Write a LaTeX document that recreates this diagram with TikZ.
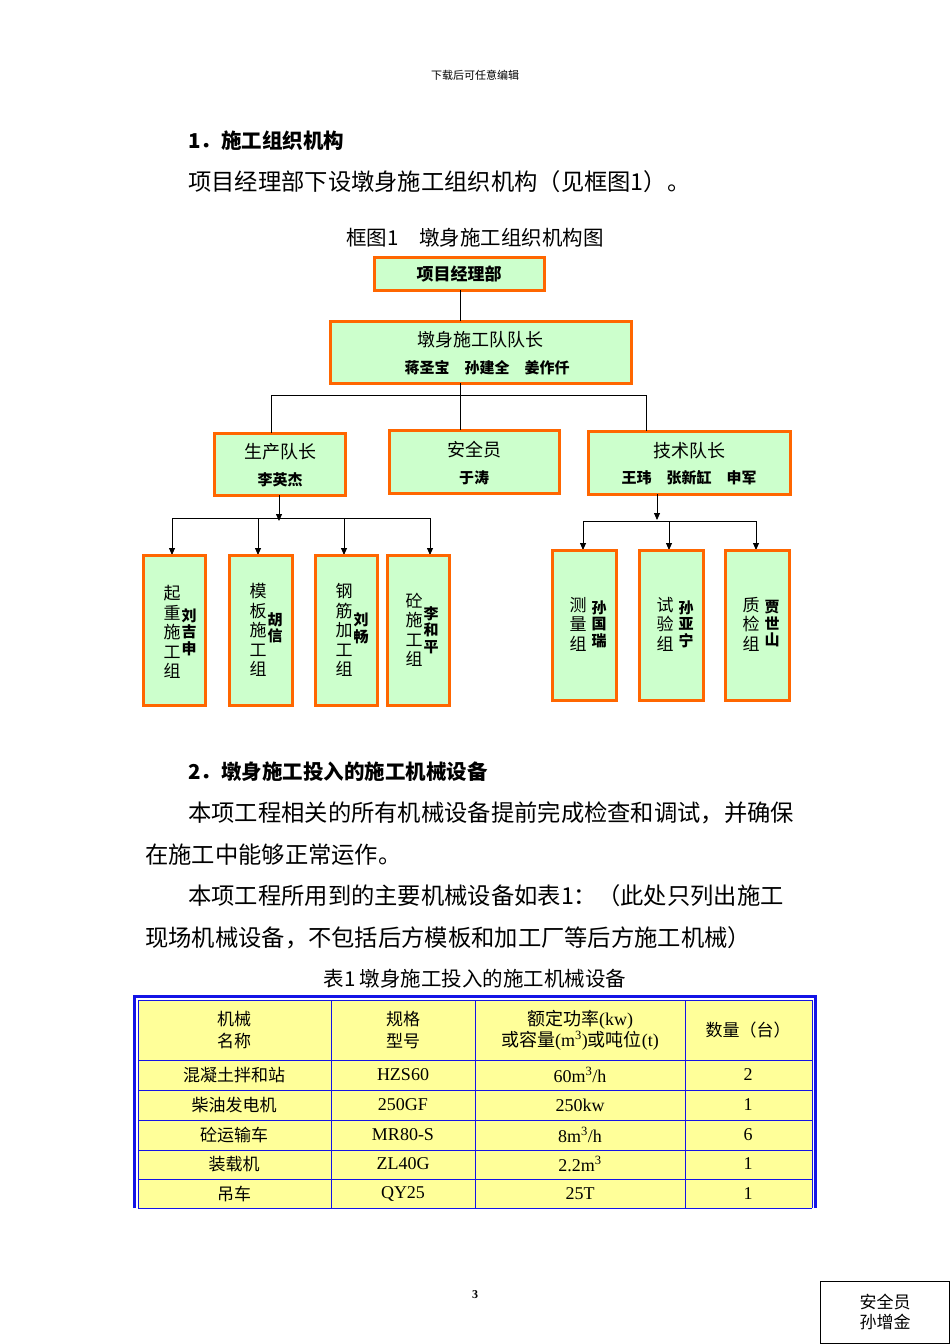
\documentclass[tikz,border=0pt]{standalone}
\usepackage{fontspec}
\setmainfont{Liberation Serif}
\newfontfamily\cjk{Noto Sans CJK SC}
\usetikzlibrary{arrows.meta}
\definecolor{orgline}{RGB}{255,102,0}
\definecolor{boxfill}{RGB}{204,255,204}
\definecolor{tabfill}{RGB}{255,255,153}
\definecolor{tabblue}{RGB}{20,20,230}
\newcommand{\fs}[1]{\fontsize{#1}{#1}\selectfont}
\begin{document}
\begin{tikzpicture}[x=1pt,y=-1pt,
  obox/.style={draw=orgline,line width=3pt,fill=boxfill},
  conn/.style={line width=0.8pt},
  arr/.style={line width=0.8pt,-{Triangle[length=7pt,width=6pt]}},
  body/.style={anchor=west,inner sep=0,font=\cjk\fs{23.3}},
  vcol/.style={inner sep=0,align=center,font=\cjk\fs{17}\linespread{1.15}\selectfont},
  vname/.style={inner sep=0,align=center,font=\cjk\bfseries\fs{15}\linespread{1.1}\selectfont},
  cell/.style={inner sep=0,align=center,font=\cjk\fs{17}\linespread{1.25}\selectfont},
  num/.style={inner sep=0,align=center,font=\fs{18}}]
\useasboundingbox (0,0) rectangle (950,1344);
\fill[white] (0,0) rectangle (950,1344);
\node[inner sep=0,font=\cjk\fs{11}] (hdr) at (475,75) {下载后可任意编辑};
\node[body,font=\cjk\bfseries\fs{20.5}] (t1) at (188,141) {1．施工组织机构};
\node[body] (p1) at (188,182) {项目经理部下设墩身施工组织机构（见框图1）。};
\node[inner sep=0,font=\cjk\fs{20.5}] (cap1) at (475,238) {框图1\quad 墩身施工组织机构图};
% org boxes
\draw[obox] (374,257) rectangle (544,290);
\node[inner sep=0,font=\cjk\bfseries\fs{17}] (pm) at (459,273.5) {项目经理部};
\coordinate (pmB) at (460,290);
\draw[obox] (330,321) rectangle (631,383);
\node[inner sep=0,font=\cjk\fs{18}] (cap) at (480,340) {墩身施工队队长};
\node[inner sep=0,font=\cjk\bfseries\fs{15}] (capn) at (487,368) {蒋圣宝\quad 孙建全\quad 姜作仟};
\coordinate (capT) at (460,321);
\coordinate (capB) at (460,383);
\draw[conn] (pmB) -- (capT);
\draw[obox] (214,433) rectangle (345,495);
\node[inner sep=0,font=\cjk\fs{18}] (sc) at (280,452) {生产队长};
\node[inner sep=0,font=\cjk\bfseries\fs{15}] (scn) at (280,480) {李英杰};
\draw[obox] (389,430) rectangle (559,493);
\node[inner sep=0,font=\cjk\fs{18}] (aq) at (474,450) {安全员};
\node[inner sep=0,font=\cjk\bfseries\fs{15}] (aqn) at (474,478) {于涛};
\draw[obox] (588,431) rectangle (790,494);
\node[inner sep=0,font=\cjk\fs{18}] (js) at (689,451) {技术队长};
\node[inner sep=0,font=\cjk\bfseries\fs{15}] (jsn) at (689,478) {王玮\quad 张新缸\quad 申军};
\coordinate (j0) at (460,395);
\draw[conn] (capB) -- (j0);
\draw[conn] (271,433) -- (271,395) -- (646,395) -- (646,431);
\draw[conn] (460,395) -- (460,430);
% left branch
\coordinate (l0) at (279,495);
\coordinate (l1) at (279,521);
\draw[arr] (l0) -- (l1);
\draw[conn] (172,518) -- (431,518);
\foreach \x/\a/\b in {172/143/205,258/229/292,344/315/377,430/387/449}{
  \draw[arr] (\x,518) -- (\x,555);
  \draw[obox] (\a,555) rectangle (\b,705);
}
\node[vcol] (b1) at (172,632) {起\\重\\施\\工\\组};
\node[vname] (b1n) at (189,632) {刘\\吉\\申};
\node[vcol] (b2) at (258,630) {模\\板\\施\\工\\组};
\node[vname] (b2n) at (275,628) {胡\\信};
\node[vcol] (b3) at (344,630) {钢\\筋\\加\\工\\组};
\node[vname] (b3n) at (361,628) {刘\\畅};
\node[vcol] (b4) at (414,630) {砼\\施\\工\\组};
\node[vname] (b4n) at (431,630) {李\\和\\平};
% right branch
\coordinate (r0) at (657,494);
\coordinate (r1) at (657,520);
\draw[arr] (r0) -- (r1);
\draw[conn] (583,521) -- (756,521);
\foreach \x/\a/\b in {583/552/616,669/639/703,756/725/789}{
  \draw[arr] (\x,521) -- (\x,550);
  \draw[obox] (\a,550) rectangle (\b,700);
}
\node[vcol] (c1) at (578,624) {测\\量\\组};
\node[vname] (c1n) at (599,624) {孙\\国\\瑞};
\node[vcol] (c2) at (665,624) {试\\验\\组};
\node[vname] (c2n) at (686,624) {孙\\亚\\宁};
\node[vcol] (c3) at (751,624) {质\\检\\组};
\node[vname] (c3n) at (772,624) {贾\\世\\山};
% section 2
\node[body,font=\cjk\bfseries\fs{20.5}] (t2) at (188,772) {2．墩身施工投入的施工机械设备};
\node[body] (p2) at (188,813) {本项工程相关的所有机械设备提前完成检查和调试，并确保};
\node[body] (p3) at (145,855) {在施工中能够正常运作。};
\node[body] (p4) at (188,896) {本项工程所用到的主要机械设备如表1：（此处只列出施工};
\node[body] (p5) at (145,938) {现场机械设备，不包括后方模板和加工厂等后方施工机械）};
\node[inner sep=0,font=\cjk\fs{20.5}] (cap2) at (475,979) {表1 墩身施工投入的施工机械设备};
% table
\fill[tabfill] (138,1000) rectangle (812,1208);
\draw[tabblue,line width=3pt] (134.5,1208) -- (134.5,996.5) -- (815.5,996.5) -- (815.5,1208);
\draw[tabblue,line width=0.8pt] (138,1208) -- (138,1000) -- (812,1000) -- (812,1208);
\foreach \y in {1060,1090,1120,1150,1179,1208}{\draw[tabblue,line width=0.8pt] (138,\y) -- (812,\y);}
\foreach \x in {331,475,685}{\draw[tabblue,line width=0.8pt] (\x,1000) -- (\x,1208);}
\node[cell] (h1) at (234,1030) {机械\\名称};
\node[cell] (h2) at (403,1030) {规格\\型号};
\node[cell,font=\fs{18}\linespread{1.15}\selectfont] (h3) at (580,1030) {{\cjk 额定功率}(kw)\\{\cjk 或容量}(m\textsuperscript{3}){\cjk 或吨位}(t)};
\node[cell] (h4) at (748,1030) {数量（台）};
\node[cell] (r1a) at (234,1075) {混凝土拌和站};
\node[num] (r1b) at (403,1075) {HZS60};
\node[num] (r1c) at (580,1075) {60m\textsuperscript{3}/h};
\node[num] (r1d) at (748,1075) {2};
\node[cell] (r2a) at (234,1105) {柴油发电机};
\node[num] (r2b) at (403,1105) {250GF};
\node[num] (r2c) at (580,1105) {250kw};
\node[num] (r2d) at (748,1105) {1};
\node[cell] (r3a) at (234,1135) {砼运输车};
\node[num] (r3b) at (403,1135) {MR80-S};
\node[num] (r3c) at (580,1135) {8m\textsuperscript{3}/h};
\node[num] (r3d) at (748,1135) {6};
\node[cell] (r4a) at (234,1164) {装载机};
\node[num] (r4b) at (403,1164) {ZL40G};
\node[num] (r4c) at (580,1164) {2.2m\textsuperscript{3}};
\node[num] (r4d) at (748,1164) {1};
\node[cell] (r5a) at (234,1194) {吊车};
\node[num] (r5b) at (403,1194) {QY25};
\node[num] (r5c) at (580,1194) {25T};
\node[num] (r5d) at (748,1194) {1};
% footer
\node[inner sep=0,font=\bfseries\fs{12}] (pg) at (475,1295) {3};
\draw[line width=0.8pt] (820,1281) rectangle (949.5,1343.5);
\node[inner sep=0,align=center,font=\cjk\fs{17}\linespread{1.2}\selectfont] (sf) at (885,1312) {安全员\\孙增金};
\end{tikzpicture}
\end{document}
